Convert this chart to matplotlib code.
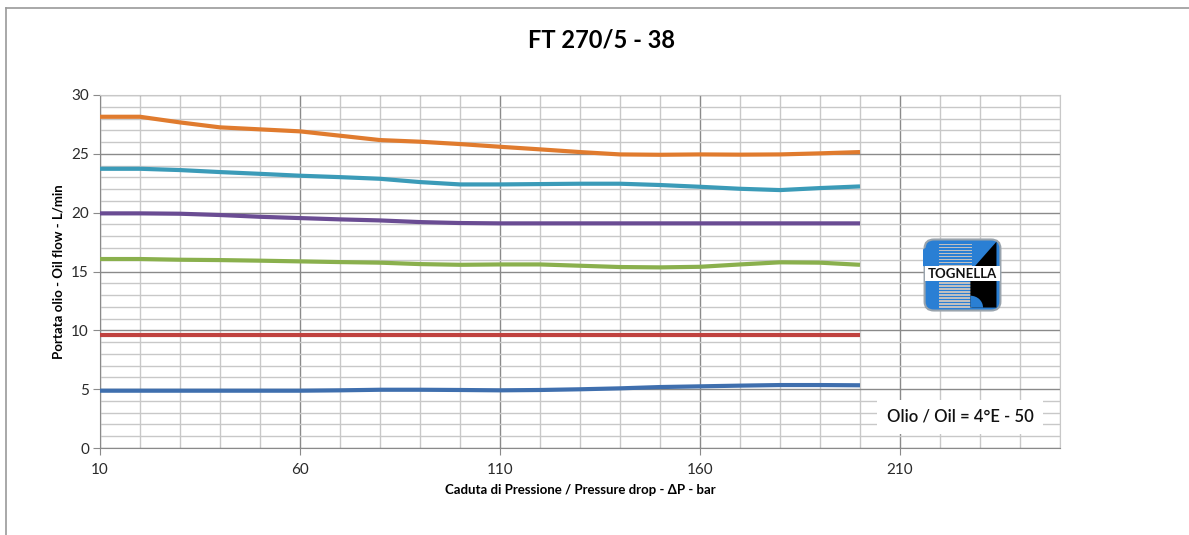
import matplotlib
matplotlib.use("Agg")
import matplotlib.pyplot as plt
import numpy as np
from matplotlib.patches import FancyBboxPatch, Rectangle, Polygon, Wedge
from matplotlib.lines import Line2D

plt.rcParams['font.family'] = ['Lato', 'DejaVu Sans']

# Pressure drop (bar)
dp = [10, 20, 30, 40, 50, 60, 70, 80, 90, 100, 110, 120, 130, 140, 150, 160, 170, 180, 190, 200]

# Oil flow series (L/min)
flow_orange = [28.15, 28.15, 27.67, 27.25, 27.08, 26.91, 26.54, 26.17, 26.03, 25.83,
               25.6, 25.38, 25.15, 24.95, 24.92, 24.95, 24.93, 24.95, 25.04, 25.15]
flow_teal = [23.73, 23.73, 23.62, 23.45, 23.3, 23.14, 23.02, 22.88, 22.6, 22.4,
             22.4, 22.43, 22.46, 22.46, 22.35, 22.2, 22.03, 21.92, 22.09, 22.23]
flow_purple = [19.94, 19.94, 19.91, 19.8, 19.65, 19.54, 19.43, 19.34, 19.2, 19.12,
               19.09, 19.09, 19.09, 19.09, 19.09, 19.09, 19.09, 19.09, 19.09, 19.09]
flow_green = [16.06, 16.06, 16.0, 15.97, 15.92, 15.86, 15.8, 15.75, 15.63, 15.57,
              15.6, 15.6, 15.49, 15.38, 15.35, 15.4, 15.6, 15.78, 15.75, 15.57]
flow_red = [9.6] * 20
flow_blue = [4.87, 4.87, 4.87, 4.87, 4.87, 4.87, 4.9, 4.95, 4.95, 4.93,
             4.9, 4.93, 4.99, 5.07, 5.18, 5.24, 5.3, 5.35, 5.35, 5.33]

series = [
    (flow_orange, '#E07B2E'),
    (flow_teal, '#3B9BB8'),
    (flow_purple, '#6A4C93'),
    (flow_green, '#8AB04D'),
    (flow_red, '#C0423F'),
    (flow_blue, '#3F6FAE'),
]

fig = plt.figure(figsize=(11.89, 5.35), dpi=100)
ax = fig.add_axes([100 / 1189, 1 - 448 / 535, 960 / 1189, 353 / 535])

ax.set_xlim(10, 250)
ax.set_ylim(0, 30)

ax.set_xticks(np.arange(10, 251, 50))
ax.set_xticks(np.arange(10, 251, 10), minor=True)
ax.set_yticks(np.arange(0, 31, 5))
ax.set_yticks(np.arange(0, 31, 1), minor=True)
ax.set_xticklabels(['10', '60', '110', '160', '210'])

ax.grid(which='minor', color='#c8c8c8', linewidth=1.0)
ax.grid(which='major', color='#8a8a8a', linewidth=1.0)
ax.set_axisbelow(True)

for side in ['top', 'right']:
    ax.spines[side].set_color('#c8c8c8')
for side in ['left', 'bottom']:
    ax.spines[side].set_color('#8a8a8a')

ax.tick_params(which='major', direction='out', length=5, color='#8a8a8a',
               labelsize=11, labelcolor='#2a2a2a', pad=3)
ax.tick_params(which='minor', length=0)
ax.tick_params(axis='x', pad=6)

for vals, col in series:
    ax.plot(dp, vals, color=col, linewidth=3, solid_capstyle='butt', zorder=3)

ax.set_xlabel('Caduta di Pressione / Pressure drop - ΔP - bar', fontsize=9.5,
              fontweight='bold', labelpad=5)
ax.set_ylabel('Portata olio - Oil flow - L/min', fontsize=9.5, fontweight='bold',
              labelpad=5)

fig.text(601 / 1189, 1 - 40 / 535, 'FT 270/5 - 38', ha='center', va='center',
         fontsize=17, fontweight='bold')

# Oil note box
ax.text(225, 2.65, 'Olio / Oil = 4°E - 50', ha='center', va='center',
        fontsize=12, fontweight='semibold', color='#111111', zorder=6,
        bbox=dict(boxstyle='square,pad=0.55', facecolor='white', edgecolor='none'))

# Logo (simplified drawing)
lax = fig.add_axes([923 / 1189, 1 - 312 / 535, 79 / 1189, 74 / 535])
lax.set_xlim(0, 1)
lax.set_ylim(0, 1)
lax.axis('off')
lax.add_patch(FancyBboxPatch((0.02, 0.02), 0.96, 0.96,
                             boxstyle='round,pad=0,rounding_size=0.12',
                             facecolor='#2a7fd4', edgecolor='#9aa4ad', linewidth=1.5))
for i in range(22):
    y0 = 0.06 + i * 0.04
    lax.add_patch(Rectangle((0.2, y0), 0.42, 0.02, facecolor='#c0c0c0',
                            edgecolor='none'))
lax.add_patch(Wedge((0.2, 0.62), 0.3, 90, 180, facecolor='#2a7fd4', edgecolor='none'))
lax.add_patch(Polygon([[0.6, 0.06], [0.93, 0.06], [0.93, 0.95], [0.6, 0.55]],
                      closed=True, facecolor='black', edgecolor='none'))
lax.add_patch(Wedge((0.6, 0.06), 0.16, 0, 90, facecolor='#2a7fd4', edgecolor='none'))
lax.add_patch(Rectangle((0.02, 0.42), 0.96, 0.2, facecolor='white', edgecolor='none'))
lax.text(0.5, 0.52, 'TOGNELLA', ha='center', va='center', fontsize=9.5,
         fontweight='bold', color='#111111')

# Chart frame
fig.add_artist(Line2D([6 / 1189, 6 / 1189], [0, 1 - 8 / 535], color='#9a9a9a',
                      linewidth=1.2))
fig.add_artist(Line2D([6 / 1189, 1], [1 - 8 / 535, 1 - 8 / 535], color='#9a9a9a',
                      linewidth=1.2))

fig.savefig('out.png', dpi=100, facecolor='white')
